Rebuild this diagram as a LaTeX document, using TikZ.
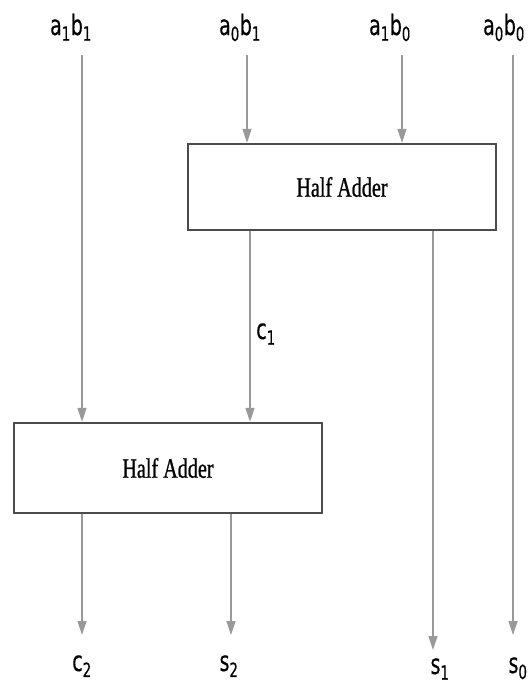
\documentclass[tikz,border=0pt]{standalone}
\usepackage{fontspec}
\usepackage{tikz}
\usetikzlibrary{arrows.meta, positioning}
\newfontfamily\bitfont[FakeStretch=0.68, FakeBold=0.4]{DejaVu Sans}
\newfontfamily\hafont[FakeStretch=0.72, FakeBold=0.8]{Liberation Serif}
\tikzset{
  habox/.style={rectangle, draw=black!70, line width=2.4pt, fill=white,
                minimum width=308pt, minimum height=86pt, inner sep=0pt,
                font=\hafont\fontsize{28}{30}\selectfont},
  bitlbl/.style={anchor=base, inner sep=0pt,
                 font=\bitfont\fontsize{28}{30}\selectfont},
  arrow/.style={-{Triangle[length=14pt,width=9pt]}, color=black!40, line width=1.2pt},
}

\begin{document}
\begin{tikzpicture}[x=1pt, y=-1pt]
    \useasboundingbox (0,0) rectangle (529,686);
    % half adders
    \node[habox] (ha1) at (342,187) {Half Adder};
    \node[habox, minimum height=90pt] (ha2) at (168,468) {Half Adder};
    % partial products
    \node[bitlbl] (p11) at (71,35) {a\textsubscript{1}b\textsubscript{1}};
    \node[bitlbl] (p01) at (240,35) {a\textsubscript{0}b\textsubscript{1}};
    \node[bitlbl] (p10) at (390,35) {a\textsubscript{1}b\textsubscript{0}};
    \node[bitlbl] (p00) at (504,35) {a\textsubscript{0}b\textsubscript{0}};
    % outputs
    \node[bitlbl] (c2) at (82,671) {c\textsubscript{2}};
    \node[bitlbl] (s2) at (229,671) {s\textsubscript{2}};
    \node[bitlbl] (s1) at (440,674) {s\textsubscript{1}};
    \node[bitlbl] (s0) at (518,673) {s\textsubscript{0}};
    \node[bitlbl] (c1) at (266,339) {c\textsubscript{1}};
    % wire ends
    \coordinate (p11w) at (82,55);
    \coordinate (p01w) at (247,55);
    \coordinate (p10w) at (402,55);
    \coordinate (p00w) at (513,55);
    \coordinate (c2w) at (82,635);
    \coordinate (s2w) at (231,635);
    \coordinate (s1w) at (433,650);
    \coordinate (s0w) at (513,635);
    \draw[arrow] (p11w) -- (p11w |- ha2.north);
    \draw[arrow] (p01w) -- (p01w |- ha1.north);
    \draw[arrow] (p10w) -- (p10w |- ha1.north);
    \draw[arrow] (p00w) -- (s0w);
    \draw[arrow] (ha1.south -| 250,0) -- (ha2.north -| 250,0);
    \draw[arrow] (s1w |- ha1.south) -- (s1w);
    \draw[arrow] (c2w |- ha2.south) -- (c2w);
    \draw[arrow] (s2w |- ha2.south) -- (s2w);
  \end{tikzpicture}
\end{document}
